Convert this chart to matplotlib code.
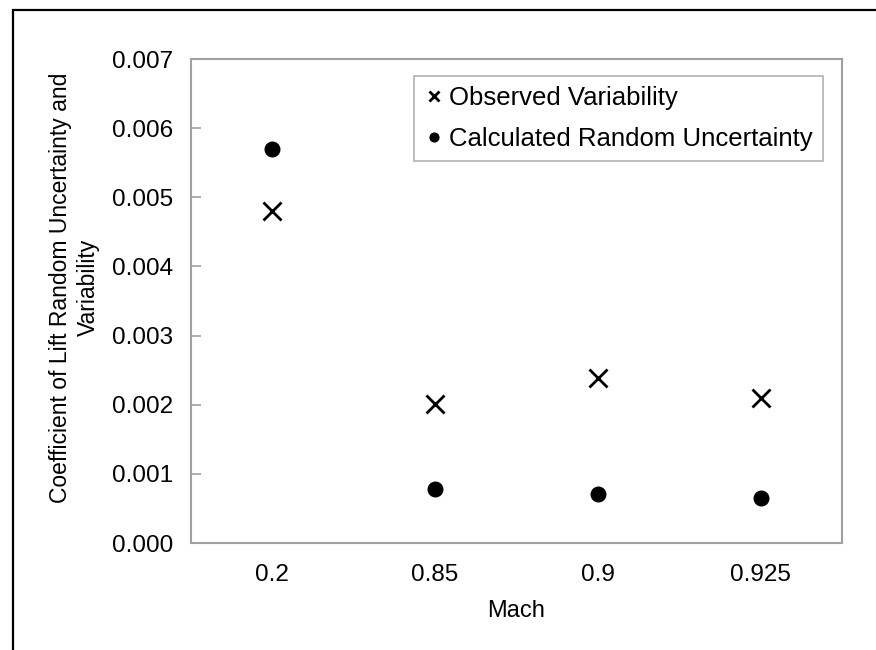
import numpy as np
import matplotlib.pyplot as plt
from matplotlib.patches import Rectangle

# データ
mach_labels = ['0.2', '0.85', '0.9', '0.925']
observed_variability = [0.0048, 0.00201, 0.00238, 0.00209]
calculated_uncertainty = [0.0057, 0.00078, 0.00071, 0.00065]

plt.rcParams['font.family'] = ['Liberation Sans', 'DejaVu Sans']

W, H = 876, 650
fig = plt.figure(figsize=(W / 100, H / 100), dpi=100)

# 外枠（左と上のみ見える）
fig.patches.append(Rectangle((13 / W, -0.1), 1.2, 1 - 10 / H + 0.1,
                             transform=fig.transFigure, fill=False,
                             edgecolor='black', linewidth=1.6, zorder=0))

ax = fig.add_axes([191 / W, 1 - 543 / H, (842 - 191) / W, (543 - 59) / H])

x = np.arange(len(mach_labels)) + 0.5
ax.plot(x, observed_variability, linestyle='none', marker='x', color='black',
        markersize=13, markeredgewidth=2.0, label='Observed Variability')
ax.plot(x, calculated_uncertainty, linestyle='none', marker='o', color='black',
        markersize=10.5, label='Calculated Random Uncertainty')

ax.set_xlim(0, len(mach_labels))
ax.set_ylim(0, 0.007)
ax.set_xticks(x)
ax.set_xticklabels(mach_labels)
yt = np.arange(0, 0.0071, 0.001)
ax.set_yticks(yt)
ax.set_yticklabels([f'{v:.3f}' for v in yt])

gray = '#a0a0a0'
for s in ax.spines.values():
    s.set_color(gray)
    s.set_linewidth(1.5)
ax.tick_params(axis='y', direction='in', length=7, color=gray, width=1.2,
               labelsize=17.5, pad=13)
ax.tick_params(axis='x', length=0, labelsize=17.5, pad=15)

ax.set_xlabel('Mach', fontsize=17, labelpad=10)
ax.set_ylabel('Coefficient of Lift Random Uncertainty and\nVariability',
              fontsize=16.5, linespacing=1.25)
ax.yaxis.set_label_coords(-0.14, 0.528)

leg = ax.legend(loc='upper right', bbox_to_anchor=(823 / W, 1 - 76 / H),
                bbox_transform=fig.transFigure, fontsize=18.5, frameon=True,
                fancybox=False, edgecolor=gray, handlelength=0.7,
                handletextpad=0.25, borderpad=0.4, labelspacing=0.65,
                borderaxespad=0, markerscale=0.6)
leg.get_frame().set_linewidth(1.2)

fig.savefig('out.png', dpi=100)
